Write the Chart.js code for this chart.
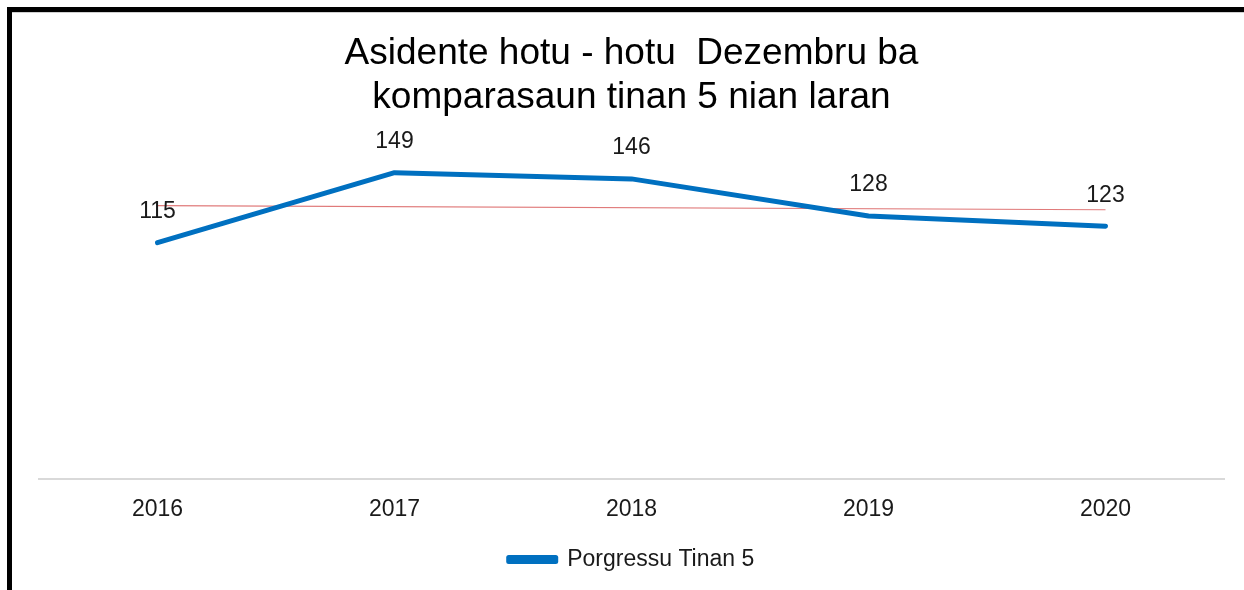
<!DOCTYPE html>
<html>
<head>
<meta charset="utf-8">
<script src="https://cdn.jsdelivr.net/npm/chart.js@4.4.0/dist/chart.umd.min.js"></script>
<style>
  html, body { margin: 0; padding: 0; background: #fff; }
  #frame {
    position: absolute; left: 7px; top: 7px;
    width: 1237px; height: 583px;
    border-top: 5px solid #000; border-left: 5px solid #000;
    box-sizing: border-box;
    box-shadow: inset 0 1px 0 #d0d0d0;
  }
  #wrap { position: absolute; left: 0; top: 0; width: 1232px; height: 578px; }
</style>
</head>
<body>
<div id="frame"><div id="wrap"><canvas id="lineGraph"></canvas></div></div>
<script>
// values
const YEARS = ['2016', '2017', '2018', '2019', '2020'];
const ACCIDENTS = [115, 149, 146, 128, 123];
// trend line ends
const TREND = [133, null, null, null, 131];
const TITLE_LINES = ['Asidente hotu - hotu  Dezembru ba', 'komparasaun tinan 5 nian laran'];
const SERIES_NAME = 'Porgressu Tinan 5';

const FONT = '"Liberation Sans", Arial, sans-serif';

// draw the numbers above each point
const pointLabels = {
    id: 'pointLabels',
    afterDatasetsDraw(chart) {
        const ctx = chart.ctx;
        const meta = chart.getDatasetMeta(0);
        ctx.save();
        ctx.font = '23px ' + FONT;
        ctx.fillStyle = '#1a1a1a';
        ctx.textAlign = 'center';
        ctx.textBaseline = 'middle';
        meta.data.forEach(function(pt, i) {
            ctx.fillText(String(ACCIDENTS[i]), pt.x, pt.y - 31);
        });
        ctx.restore();
    }
};

const ctx = document.getElementById('lineGraph').getContext('2d');
const myChart = new Chart(ctx, {
    type: 'line',
    data: {
        labels: YEARS,
        datasets: [
            {
                label: SERIES_NAME,
                data: ACCIDENTS,
                borderColor: '#0070C0',
                backgroundColor: '#0070C0',
                borderWidth: 5,
                pointRadius: 0,
                tension: 0,
                borderJoinStyle: 'round',
                borderCapStyle: 'round',
                order: 1
            },
            {
                label: 'trend',
                data: TREND,
                spanGaps: true,
                borderColor: '#e07a7a',
                borderWidth: 1.2,
                pointRadius: 0,
                order: 2
            }
        ]
    },
    options: {
        responsive: true,
        maintainAspectRatio: false,
        animation: false,
        layout: {
            padding: { left: 27, right: 20, top: 0, bottom: 9 }
        },
        plugins: {
            title: {
                display: true,
                text: TITLE_LINES,
                color: '#000',
                font: { family: FONT, size: 37, weight: 'normal', lineHeight: 1.19 },
                padding: { top: 20, bottom: 30 }
            },
            legend: {
                position: 'bottom',
                labels: {
                    filter: item => item.datasetIndex === 0,
                    boxWidth: 47,
                    boxHeight: 4,
                    color: '#1a1a1a',
                    font: { family: FONT, size: 23 },
                    padding: 10
                }
            },
            tooltip: { enabled: false }
        },
        scales: {
            x: {
                offset: true,
                grid: { display: false },
                border: { display: true, color: '#d9d9d9', width: 2 },
                ticks: {
                    color: '#1a1a1a',
                    font: { family: FONT, size: 23 },
                    padding: 8,
                    maxRotation: 0
                },
                afterFit: function(scale) {
                    scale.height += 7;
                }
            },
            y: {
                display: false,
                min: 0,
                max: 160
            }
        }
    },
    plugins: [pointLabels]
});
</script>
</body>
</html>
